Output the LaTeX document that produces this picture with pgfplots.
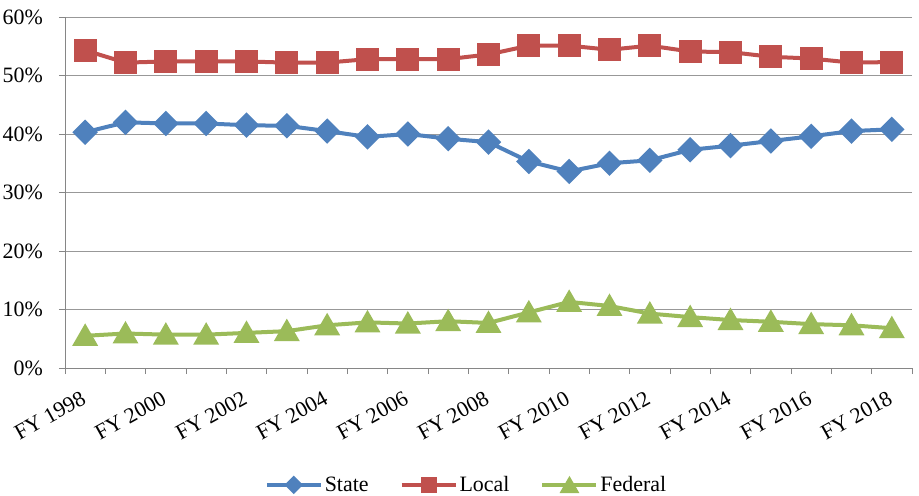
\documentclass[border=0pt]{standalone}
\usepackage{pgfplots}
\pgfplotsset{compat=1.18}
\usepackage{fontspec}
\setmainfont{Liberation Serif}
\definecolor{cState}{HTML}{4F81BD}
\definecolor{cLocal}{HTML}{C0504D}
\definecolor{cFed}{HTML}{9BBB59}
\definecolor{axgray}{HTML}{868686}
\pgfplotsset{
  legS/.style={legend image code/.code={\draw[mark repeat=2,mark phase=2,##1,mark size=4.6bp] plot coordinates {(0bp,0bp)(27bp,0bp)(54bp,0bp)};}},
  legL/.style={legend image code/.code={\draw[mark repeat=2,mark phase=2,##1,mark size=6bp] plot coordinates {(0bp,0bp)(27bp,0bp)(54bp,0bp)};}},
  legF/.style={legend image code/.code={\draw[mark repeat=2,mark phase=2,##1,mark size=7.5bp] plot coordinates {(0bp,0bp)(27bp,0bp)(54bp,0bp)};}},
}
\pgfplotstableread{
x State Local Federal
0 40.3 54.3 5.5
1 42.0 52.2 5.9
2 41.8 52.4 5.7
3 41.8 52.4 5.7
4 41.5 52.4 6.0
5 41.4 52.2 6.3
6 40.5 52.2 7.3
7 39.5 52.8 7.8
8 40.0 52.8 7.6
9 39.2 52.8 8.0
10 38.6 53.6 7.7
11 35.3 55.1 9.5
12 33.6 55.1 11.3
13 35.0 54.4 10.6
14 35.5 55.1 9.3
15 37.3 54.1 8.7
16 38.0 54.0 8.2
17 38.8 53.2 7.9
18 39.6 52.9 7.5
19 40.5 52.2 7.3
20 40.8 52.3 6.8
}\datatable
\begin{document}
\begin{tikzpicture}[font=\fontsize{22}{26}\selectfont]
\useasboundingbox (-65bp,-128bp) rectangle (854bp,368bp);
\begin{axis}[
  at={(0,0)}, anchor=south west,
  scale only axis,
  width=847bp, height=351bp,
  xmin=-0.5, xmax=20.5,
  ymin=0, ymax=60,
  axis lines*=left,
  axis line style={draw=axgray, line width=0.9bp, -},
  tick style={draw=axgray, line width=0.9bp},
  tick align=outside,
  major tick length=6bp,
  xtick={-0.5,0.5,...,20.5},
  xticklabels={},
  extra x ticks={0,2,...,20},
  extra x tick labels={FY 1998,FY 2000,FY 2002,FY 2004,FY 2006,FY 2008,FY 2010,FY 2012,FY 2014,FY 2016,FY 2018},
  extra x tick style={major tick length=0pt, tick label style={yshift=-22bp, xshift=-5bp, rotate=29, anchor=north east, inner sep=0bp}},
  ytick={0,10,...,60},
  yticklabels={0\%,10\%,20\%,30\%,40\%,50\%,60\%},
  yticklabel style={inner sep=0bp, xshift=-16bp},
  ymajorgrids,
  grid style={draw=axgray!85, line width=0.9bp},
  legend style={at={(0.474,-0.333)}, anchor=center, draw=none, fill=none,
    legend columns=-1, inner sep=0pt,
    /tikz/every even column/.append style={column sep=29bp},
    nodes={inner sep=2bp}},
]
\addplot[cState, line width=4bp, mark=square*, mark size=7bp, mark options={solid, fill=cState, rotate=45}, legS]
  table[x=x, y=State] {\datatable};
\addlegendentry{State}
\addplot[cLocal, line width=4bp, mark=square*, mark size=9.5bp, mark options={solid, fill=cLocal}, legL]
  table[x=x, y=Local] {\datatable};
\addlegendentry{Local}
\addplot[cFed, line width=4bp, mark=triangle*, mark size=11bp, mark options={solid, fill=cFed, yshift=-2.5bp}, legF]
  table[x=x, y=Federal] {\datatable};
\addlegendentry{Federal}
\end{axis}
\end{tikzpicture}
\end{document}
